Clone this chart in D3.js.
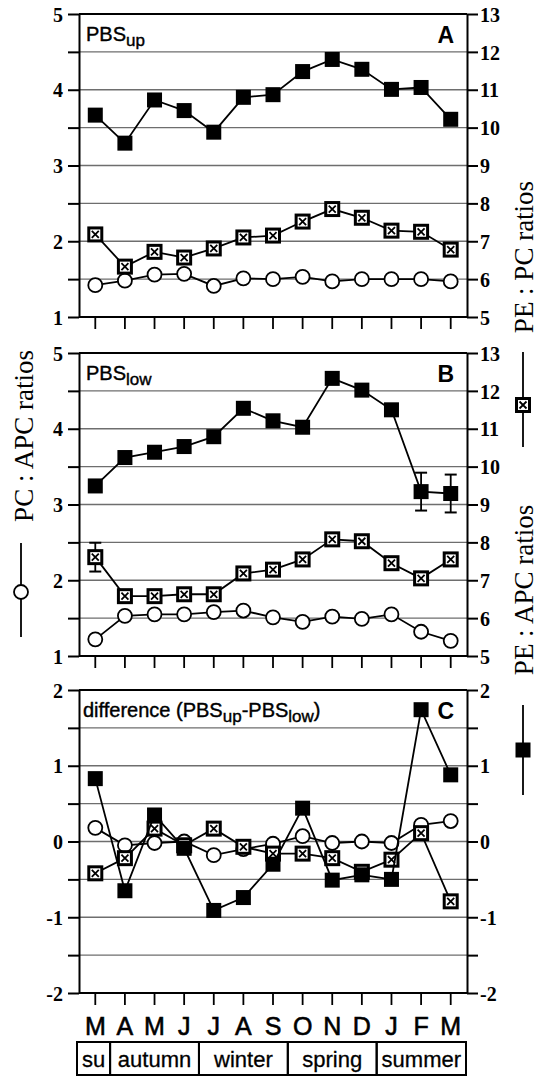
<!DOCTYPE html>
<html>
<head>
<meta charset="utf-8">
<script src="https://cdnjs.cloudflare.com/ajax/libs/d3/7.8.5/d3.min.js"></script>
<style>
  body { margin: 0; background: #fff; }
  svg { display: block; }
  .tick line, .domain { stroke: #000; stroke-width: 2; }
</style>
</head>
<body>
<div id="chart"></div>
<script>
// month axis and seasons
const months = ["M", "A", "M", "J", "J", "A", "S", "O", "N", "D", "J", "F", "M"];
const seasons = ["su", "autumn", "winter", "spring", "summer"];
const seasonFirst = [0, 1, 4, 7, 10];
const seasonLast = [0, 3, 6, 9, 12];

// panel A: PBS up  (circle on left axis, squares on right axis)
const pcApcUp = [1.42, 1.48, 1.56, 1.57, 1.41, 1.51, 1.50, 1.53, 1.47, 1.50, 1.50, 1.50, 1.47];
const pePcUp = [7.18, 6.33, 6.72, 6.57, 6.81, 7.10, 7.15, 7.52, 7.85, 7.62, 7.28, 7.25, 6.78];
const peApcUp = [10.33, 9.59, 10.73, 10.45, 9.88, 10.80, 10.87, 11.48, 11.80, 11.54, 11.01, 11.06, 10.22];

// panel B: PBS low
const pcApcLow = [1.22, 1.53, 1.55, 1.55, 1.58, 1.60, 1.51, 1.45, 1.52, 1.49, 1.55, 1.32, 1.20];
const pePcLow = [7.61, 6.58, 6.58, 6.63, 6.63, 7.18, 7.28, 7.55, 8.08, 8.03, 7.45, 7.05, 7.55];
const peApcLow = [9.49, 10.24, 10.38, 10.53, 10.79, 11.54, 11.21, 11.04, 12.33, 12.02, 11.50, 9.34, 9.29];
const pePcLowErr = [0.38, 0, 0, 0, 0, 0, 0, 0, 0, 0, 0, 0, 0];
const peApcLowErr = [0, 0, 0, 0, 0, 0, 0, 0, 0, 0, 0, 0.5, 0.5];

// panel C: difference
const pcApcDiff = [0.18, -0.05, -0.02, 0.00, -0.18, -0.10, -0.03, 0.07, -0.02, 0.00, -0.02, 0.22, 0.27];
const pePcDiff = [-0.42, -0.22, 0.17, -0.05, 0.17, -0.07, -0.16, -0.16, -0.22, -0.40, -0.24, 0.11, -0.79];
const peApcDiff = [0.83, -0.65, 0.35, -0.09, -0.91, -0.74, -0.30, 0.44, -0.51, -0.44, -0.50, 1.74, 0.88];

const W = 540, H = 1076;
const left = 79, right = 467, panelH = 303;
const sans = "'Liberation Sans', Arial, Helvetica, sans-serif";
const serif = "'Liberation Serif', 'Times New Roman', serif";

const svg = d3.select('#chart').append('svg')
  .attr('width', W).attr('height', H);

const x = d3.scalePoint()
  .domain(d3.range(months.length))
  .range([left, right])
  .padding(0.55);

const panels = [
  { top: 14, lDom: [1, 5], rDom: [5, 13], lTicks: [1, 2, 3, 4, 5], rTicks: d3.range(5, 14),
    circ: pcApcUp, cross: pePcUp, fill: peApcUp, label: ["PBS", "up"], letter: "A" },
  { top: 353, lDom: [1, 5], rDom: [5, 13], lTicks: [1, 2, 3, 4, 5], rTicks: d3.range(5, 14),
    circ: pcApcLow, cross: pePcLow, fill: peApcLow, crossErr: pePcLowErr, fillErr: peApcLowErr,
    label: ["PBS", "low"], letter: "B" },
  { top: 690, lDom: [-2, 2], rDom: [-2, 2], lTicks: [-2, -1, 0, 1, 2], rTicks: [-2, -1, 0, 1, 2],
    circ: pcApcDiff, cross: pePcDiff, fill: peApcDiff, label: null, letter: "C" }
];

panels.forEach(p => {
  const bottom = p.top + panelH;
  const yL = d3.scaleLinear().domain(p.lDom).range([bottom, p.top]);
  const yR = d3.scaleLinear().domain(p.rDom).range([bottom, p.top]);
  const halfSteps = d3.range(p.lDom[0], p.lDom[1] + 0.01, 0.5);
  const g = svg.append('g');

  // grid lines
  g.selectAll('.grid').data(halfSteps.slice(1, -1)).join('line')
    .attr('x1', left).attr('x2', right)
    .attr('y1', d => yL(d)).attr('y2', d => yL(d))
    .attr('stroke', '#6e6e6e').attr('stroke-width', 1.4);

  // top / bottom frame
  g.selectAll('.frame').data(p.lDom).join('line')
    .attr('x1', left).attr('x2', right)
    .attr('y1', d => yL(d)).attr('y2', d => yL(d))
    .attr('stroke', '#000').attr('stroke-width', 2);

  // left axis
  g.append('g')
    .attr('transform', `translate(${left},0)`)
    .call(d3.axisLeft(yL).tickValues(halfSteps).tickSize(11).tickSizeOuter(0).tickPadding(5)
      .tickFormat(d => p.lTicks.includes(d) ? String(d) : ""));

  // right axis (same half steps of left scale)
  const rSteps = halfSteps.map(d => yR.invert(yL(d)));
  g.append('g')
    .attr('transform', `translate(${right},0)`)
    .call(d3.axisRight(yR).tickValues(rSteps).tickSize(11).tickSizeOuter(0).tickPadding(2)
      .tickFormat(d => {
        const r = Math.round(d * 100) / 100;
        return p.rTicks.includes(r) ? String(r) : "";
      }));

  g.selectAll('.tick text')
    .attr('dy', '0.36em')
    .style('font-family', serif)
    .style('font-size', '20px')
    .style('font-weight', 'bold')
    .style('fill', '#000');

  // month ticks below the panel
  g.selectAll('.mt').data(d3.range(months.length)).join('line')
    .attr('x1', d => x(d)).attr('x2', d => x(d))
    .attr('y1', bottom).attr('y2', bottom + 12)
    .attr('stroke', '#000').attr('stroke-width', 1.8);

  // panel texts
  const t = g.append('text')
    .attr('x', p.label ? 86 : 83).attr('y', p.top + 27)
    .attr('font-family', sans).attr('font-size', 20)
    .attr('stroke', '#000').attr('stroke-width', 0.4);
  if (p.label) {
    t.append('tspan').text(p.label[0]);
    t.append('tspan').attr('dy', 5).attr('font-size', 17).text(p.label[1]);
  } else {
    t.append('tspan').text("difference (PBS");
    t.append('tspan').attr('dy', 5).attr('font-size', 17).text("up");
    t.append('tspan').attr('dy', -5).text("-PBS");
    t.append('tspan').attr('dy', 5).attr('font-size', 17).text("low");
    t.append('tspan').attr('dy', -5).text(")");
  }
  g.append('text')
    .attr('x', 454).attr('y', p.top + 29)
    .attr('text-anchor', 'end')
    .attr('font-family', sans).attr('font-size', 23).attr('font-weight', 'bold')
    .text(p.letter);

  const line = y => d3.line().x((d, i) => x(i)).y(d => y(d));

  // error bars
  [[p.crossErr, p.cross], [p.fillErr, p.fill]].forEach(([err, vals]) => {
    if (!err) return;
    const idx = d3.range(vals.length).filter(i => err[i] > 0);
    const eg = g.selectAll(null).data(idx).join('g');
    eg.append('line')
      .attr('x1', i => x(i)).attr('x2', i => x(i))
      .attr('y1', i => yR(vals[i] + err[i])).attr('y2', i => yR(vals[i] - err[i]))
      .attr('stroke', '#000').attr('stroke-width', 1.8);
    [1, -1].forEach(s => {
      eg.append('line')
        .attr('x1', i => x(i) - 6).attr('x2', i => x(i) + 6)
        .attr('y1', i => yR(vals[i] + s * err[i])).attr('y2', i => yR(vals[i] + s * err[i]))
        .attr('stroke', '#000').attr('stroke-width', 2);
    });
  });

  // circles (left axis)
  g.append('path').datum(p.circ)
    .attr('d', line(yL)).attr('fill', 'none').attr('stroke', '#000').attr('stroke-width', 1.8);
  g.selectAll('.c').data(p.circ).join('circle')
    .attr('cx', (d, i) => x(i)).attr('cy', d => yL(d)).attr('r', 7)
    .attr('fill', '#fff').attr('stroke', '#000').attr('stroke-width', 1.8);

  // crossed squares (right axis)
  g.append('path').datum(p.cross)
    .attr('d', line(yR)).attr('fill', 'none').attr('stroke', '#000').attr('stroke-width', 1.8);
  const cg = g.selectAll('.x').data(p.cross).join('g')
    .attr('transform', (d, i) => `translate(${x(i)},${yR(d)})`);
  crossMarker(cg);

  // filled squares (right axis)
  g.append('path').datum(p.fill)
    .attr('d', line(yR)).attr('fill', 'none').attr('stroke', '#000').attr('stroke-width', 1.8);
  g.selectAll('.f').data(p.fill).join('rect')
    .attr('x', (d, i) => x(i) - 7.5).attr('y', d => yR(d) - 7.5)
    .attr('width', 15).attr('height', 15).attr('fill', '#000');
});

function crossMarker(sel) {
  sel.append('rect')
    .attr('x', -6.5).attr('y', -6.5).attr('width', 13).attr('height', 13)
    .attr('fill', '#fff').attr('stroke', '#000').attr('stroke-width', 3);
  sel.append('path')
    .attr('d', 'M-3.5,-3.5L3.5,3.5M-3.5,3.5L3.5,-3.5')
    .attr('stroke', '#000').attr('stroke-width', 1.8);
}

// month labels
svg.selectAll('.ml').data(months).join('text')
  .attr('x', (d, i) => x(i)).attr('y', 1035)
  .attr('text-anchor', 'middle')
  .attr('font-family', sans).attr('font-size', 25)
  .attr('stroke', '#000').attr('stroke-width', 0.6)
  .text(d => d);

// season box
const step = x.step();
const sx0 = i => (i === 0 ? left - 2 : x(i) - step / 2);
const sx1 = i => (i === months.length - 1 ? right - 1 : x(i) + step / 2);
const boxTop = 1042, boxBot = 1075;
const sg = svg.selectAll('.season').data(seasons).join('g');
sg.append('rect')
  .attr('x', (d, i) => sx0(seasonFirst[i]))
  .attr('y', boxTop)
  .attr('width', (d, i) => sx1(seasonLast[i]) - sx0(seasonFirst[i]))
  .attr('height', boxBot - boxTop)
  .attr('fill', 'none').attr('stroke', '#000').attr('stroke-width', 2);
sg.append('text')
  .attr('x', (d, i) => (sx0(seasonFirst[i]) + sx1(seasonLast[i])) / 2)
  .attr('y', 1067)
  .attr('text-anchor', 'middle')
  .attr('font-family', sans).attr('font-size', 22)
  .attr('stroke', '#000').attr('stroke-width', 0.3)
  .text(d => d);

// axis titles
const titles = [
  { text: "PC : APC ratios", x: 33, y: 436 },
  { text: "PE : PC ratios", x: 533, y: 257 },
  { text: "PE : APC ratios", x: 533, y: 590 }
];
svg.selectAll('.title').data(titles).join('text')
  .attr('transform', d => `translate(${d.x},${d.y}) rotate(-90)`)
  .attr('text-anchor', 'middle')
  .attr('font-family', serif).attr('font-size', 27)
  .text(d => d.text);

// legend keys
const keys = [
  { type: 'circle', x: 21, y1: 543, y2: 637, ym: 592 },
  { type: 'cross', x: 523, y1: 352, y2: 447, ym: 405 },
  { type: 'fill', x: 523, y1: 705, y2: 795, ym: 750 }
];
keys.forEach(k => {
  const kg = svg.append('g');
  kg.append('line')
    .attr('x1', k.x).attr('x2', k.x).attr('y1', k.y1).attr('y2', k.y2)
    .attr('stroke', '#000').attr('stroke-width', 1.8);
  const m = kg.append('g').attr('transform', `translate(${k.x},${k.ym})`);
  if (k.type === 'circle') {
    m.append('circle').attr('r', 7).attr('fill', '#fff').attr('stroke', '#000').attr('stroke-width', 1.8);
  } else if (k.type === 'cross') {
    crossMarker(m);
  } else {
    m.append('rect').attr('x', -7.5).attr('y', -7.5).attr('width', 15).attr('height', 15).attr('fill', '#000');
  }
});
</script>
</body>
</html>
